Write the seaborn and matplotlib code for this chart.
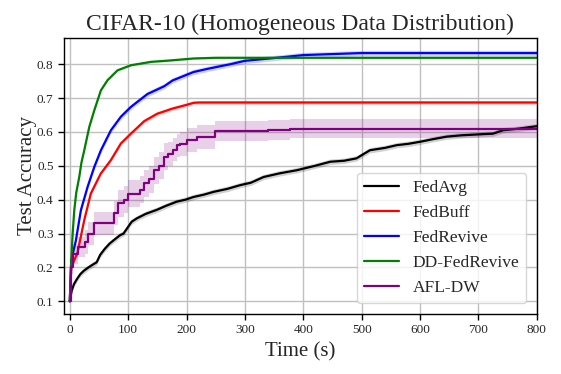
import numpy as np
import pandas as pd
import matplotlib
matplotlib.use("Agg")
import matplotlib.pyplot as plt
import seaborn as sns

# ---- data ----
fedavg_t = [0, 3, 7, 12, 18, 24, 32, 41, 46, 52, 60, 68, 75, 86, 92, 98, 106, 115, 130, 149, 165,
            183, 198, 212, 230, 246, 270, 292, 310, 332, 360, 389, 420, 446, 470, 491, 514, 540,
            560, 580, 600, 620, 645, 670, 702, 725, 742, 770, 800]
fedavg_a = [0.10, 0.13, 0.15, 0.165, 0.18, 0.19, 0.20, 0.21, 0.215, 0.237, 0.255, 0.27, 0.28, 0.295,
            0.30, 0.315, 0.335, 0.345, 0.358, 0.37, 0.382, 0.394, 0.40, 0.408, 0.415, 0.423, 0.432,
            0.443, 0.45, 0.467, 0.478, 0.487, 0.50, 0.512, 0.515, 0.522, 0.546, 0.553, 0.561, 0.565,
            0.571, 0.578, 0.586, 0.59, 0.593, 0.595, 0.605, 0.61, 0.617]

fedbuff_t = [0, 2.5, 6, 13, 24.8, 36, 53, 70.4, 87.5, 104.7, 127.5, 150, 176, 200, 212, 222, 800]
fedbuff_a = [0.10, 0.20, 0.215, 0.242, 0.34, 0.418, 0.477, 0.517, 0.566, 0.595, 0.632, 0.654,
             0.669, 0.68, 0.686, 0.687, 0.687]

fedrevive_t = [0, 2.5, 5, 10.5, 19, 30.5, 42, 53.3, 70.4, 87.5, 104.7, 133, 161.7, 176, 212, 235,
               257.5, 275, 292, 300, 330, 360, 400, 450, 500, 800]
fedrevive_a = [0.10, 0.22, 0.24, 0.28, 0.369, 0.438, 0.497, 0.546, 0.605, 0.645, 0.674, 0.712,
               0.735, 0.752, 0.777, 0.786, 0.794, 0.80, 0.807, 0.81, 0.815, 0.82, 0.827, 0.83,
               0.833, 0.833]

ddfedrevive_t = [0, 2.5, 4.9, 7.7, 11, 16.3, 20, 24.8, 33.4, 42, 53.3, 64.7, 81.8, 104.7, 139, 171,
                 212, 250, 800]
ddfedrevive_a = [0.10, 0.22, 0.30, 0.369, 0.42, 0.468, 0.51, 0.546, 0.615, 0.664, 0.723, 0.753,
                 0.782, 0.797, 0.807, 0.811, 0.817, 0.819, 0.819]

afldw_t = [0, 2.5, 6, 13.4, 26, 30.5, 42, 63, 76, 81.8, 92, 99, 116, 121, 127.5, 136, 144.6, 153,
           161.7, 168, 176, 183, 189, 200, 218, 246, 249, 300, 340, 377, 800]
afldw_a = [0.10, 0.20, 0.24, 0.261, 0.276, 0.30, 0.33, 0.33, 0.36, 0.389, 0.40, 0.418, 0.418, 0.43,
           0.448, 0.46, 0.487, 0.50, 0.527, 0.535, 0.548, 0.56, 0.565, 0.576, 0.586, 0.586, 0.603,
           0.603, 0.606, 0.61, 0.61]
afldw_sd = [0.0, 0.02, 0.03, 0.03, 0.035, 0.035, 0.035, 0.035, 0.035, 0.04, 0.04, 0.04, 0.04, 0.04,
            0.04, 0.04, 0.04, 0.04, 0.04, 0.035, 0.035, 0.035, 0.035, 0.035, 0.035, 0.035, 0.03,
            0.03, 0.03, 0.028, 0.028]

# half-width of the shaded band for the other methods
fedavg_sd = 0.008
fedbuff_sd = 0.006
fedrevive_sd = 0.008
ddfedrevive_sd = 0.003

labels = ["FedAvg", "FedBuff", "FedRevive", "DD-FedRevive", "AFL-DW"]
colors = ["black", "red", "blue", "green", "purple"]
series = {
    "FedAvg": (fedavg_t, fedavg_a, fedavg_sd),
    "FedBuff": (fedbuff_t, fedbuff_a, fedbuff_sd),
    "FedRevive": (fedrevive_t, fedrevive_a, fedrevive_sd),
    "DD-FedRevive": (ddfedrevive_t, ddfedrevive_a, ddfedrevive_sd),
    "AFL-DW": (afldw_t, afldw_a, afldw_sd),
}

sns.set_theme(style="ticks")
plt.rcParams["font.family"] = ["Liberation Serif", "DejaVu Serif"]

fig = plt.figure(figsize=(5.61, 3.74), dpi=100)
ax = fig.add_axes([0.114, 0.161, 0.843, 0.737])

for lab, col in zip(labels, colors):
    t, a, sd = series[lab]
    df = pd.DataFrame({"Time": t, "Acc": a})
    step = lab == "AFL-DW"
    kw = {"drawstyle": "steps-post"} if step else {}
    sns.lineplot(data=df, x="Time", y="Acc", color=col, linewidth=1.6, label=lab, ax=ax, **kw)
    lo = np.array(a) - np.array(sd)
    hi = np.array(a) + np.array(sd)
    ax.fill_between(t, lo, hi, color=col, alpha=0.18, linewidth=0,
                    step="post" if step else None)

ax.set_xlim(-10, 800)
ax.set_ylim(0.063, 0.877)
ax.set_xticks([0, 100, 200, 300, 400, 500, 600, 700, 800])
ax.set_yticks([0.1, 0.2, 0.3, 0.4, 0.5, 0.6, 0.7, 0.8])
ax.grid(True, color="#c0c0c0", linewidth=1.0)
ax.set_axisbelow(True)
for s in ax.spines.values():
    s.set_color("black")
    s.set_linewidth(1.0)
ax.tick_params(axis="both", labelsize=9.5, length=4, width=1, color="black")
ax.set_xlabel("Time (s)", fontsize=15, labelpad=4)
ax.set_ylabel("Test Accuracy", fontsize=15, labelpad=0)
ax.set_title("CIFAR-10 (Homogeneous Data Distribution)", fontsize=17, pad=6)
leg = ax.legend(loc="lower right", fontsize=12.5, frameon=True, fancybox=True,
                handlelength=2.0, borderaxespad=0.6, labelspacing=0.52)
leg.get_frame().set_edgecolor("#cccccc")

fig.savefig("out.png", dpi=100)
